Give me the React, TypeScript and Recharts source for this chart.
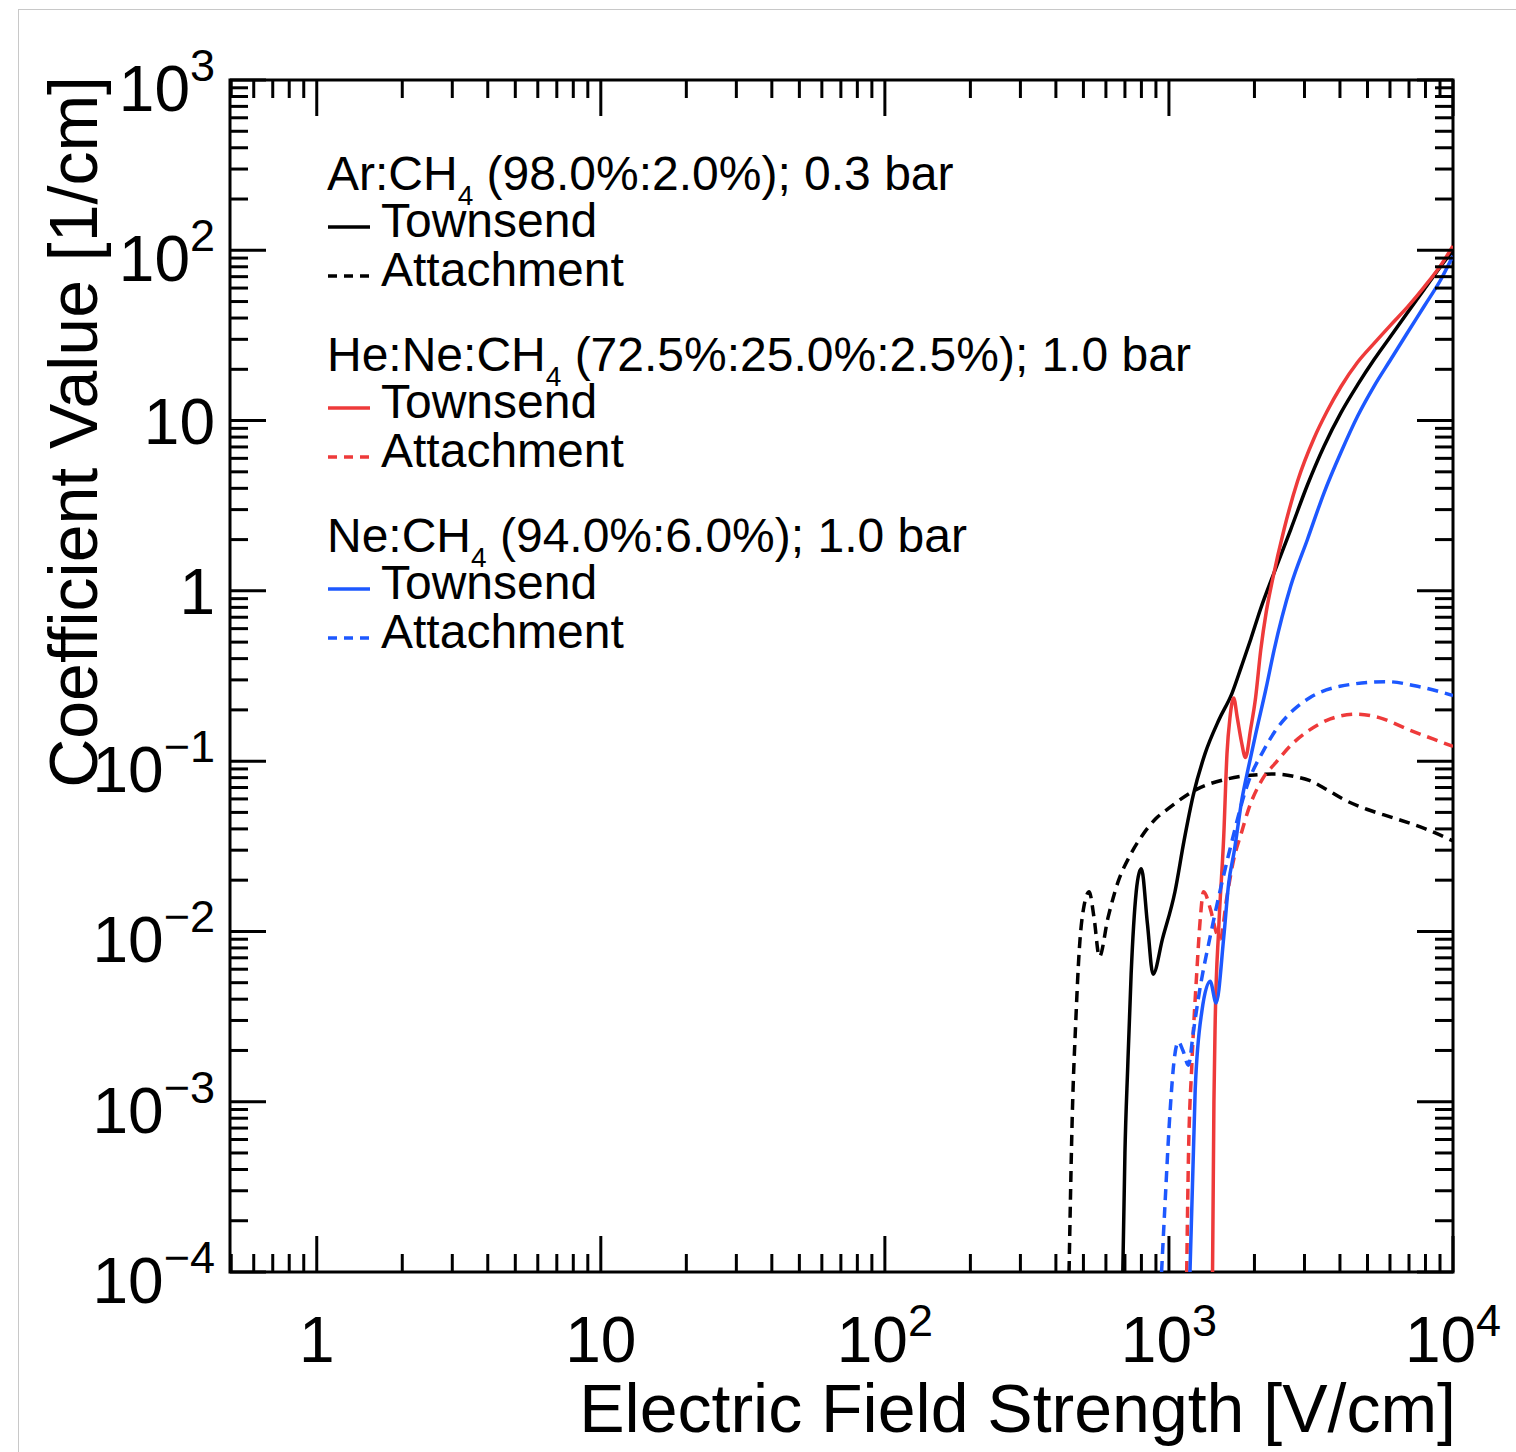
import { LineChart, Line, XAxis, YAxis, Legend, ReferenceArea } from "recharts";

const FONT = "'Liberation Sans', Arial, Helvetica, sans-serif";
const RED = "#ee3a3a";
const BLUE = "#1d58ff";

const CHART_W = 1516;
const CHART_H = 1452;
const PLOT_W = 1223;
const PLOT_H = 1192;

// axis ranges and ticks
const xDomain = [0.495, 10000];
const yDomain = [1e-4, 1000];
const xMajor = [1, 10, 100, 1000, 10000];
const yMajor = [1e-4, 1e-3, 1e-2, 1e-1, 1, 10, 100, 1000];
const minorSteps = [2, 3, 4, 5, 6, 7, 8, 9];
const xTicks = [0.5, 0.6, 0.7, 0.8, 0.9, ...xMajor, ...[1, 10, 100, 1000].flatMap((d) => minorSteps.map((m) => m * d))];
const yTicks = [...yMajor, ...[1e-4, 1e-3, 1e-2, 1e-1, 1, 10, 100].flatMap((d) => minorSteps.map((m) => m * d))];

// [field V/cm, coefficient 1/cm]
const arTownsend = [
  [688, 1e-4], [700, 5e-4], [716, 1.6e-3], [736, 5.6e-3], [767, 0.0171], [785, 0.022], [800, 0.0233],
  [840, 0.0111], [879, 5.6e-3], [950, 9.1e-3], [1050, 0.0171], [1130, 0.034], [1219, 0.0635],
  [1341, 0.111], [1500, 0.175], [1667, 0.25], [1800, 0.36], [1941, 0.52], [2100, 0.78], [2346, 1.28],
  [2685, 2.3], [3075, 4.2], [3519, 7.1], [4030, 11.1], [4613, 16.2], [5283, 22.9], [6043, 31.4],
  [6920, 43.1], [7925, 59], [9075, 81], [10000, 100],
];
const arAttachment = [
  [445, 1e-4], [457, 8.5e-4], [470, 2.98e-3], [483, 7.6e-3], [500, 0.0135], [524, 0.0171], [545, 0.012],
  [569, 7.1e-3], [610, 0.012], [661, 0.0194], [730, 0.028], [800, 0.036], [900, 0.046], [994, 0.0526],
  [1236, 0.0676], [1622, 0.0789], [2000, 0.083], [2378, 0.084], [2800, 0.081], [3120, 0.077],
  [3600, 0.068], [4092, 0.06], [5000, 0.052], [6160, 0.0465], [8000, 0.04], [10000, 0.034],
];
const heTownsend = [
  [1424, 1e-4], [1440, 1e-3], [1455, 2.98e-3], [1497, 0.0104], [1559, 0.036], [1601, 0.111], [1640, 0.18],
  [1690, 0.235], [1740, 0.18], [1800, 0.13], [1859, 0.105], [1940, 0.155], [2018, 0.235], [2105, 0.45],
  [2200, 0.75], [2313, 1.15], [2543, 2.3], [2836, 4.4], [3245, 7.9], [3600, 11.3], [4030, 15.8],
  [4613, 22], [5283, 28.5], [6043, 36.5], [6920, 46.5], [7925, 61], [9075, 82], [10000, 106],
];
const heAttachment = [
  [1155, 1e-4], [1171, 4.6e-4], [1203, 1.6e-3], [1252, 5.6e-3], [1290, 0.012], [1324, 0.0171],
  [1400, 0.0135], [1470, 0.0098], [1515, 0.009], [1600, 0.016], [1690, 0.0264], [1800, 0.038],
  [1910, 0.0526], [2150, 0.08], [2378, 0.098], [2700, 0.125], [3120, 0.152], [3700, 0.177],
  [4570, 0.189], [5500, 0.18], [7060, 0.152], [8500, 0.135], [10000, 0.122],
];
const neTownsend = [
  [1186, 1e-4], [1237, 1.17e-3], [1306, 3.4e-3], [1397, 5.1e-3], [1466, 3.8e-3], [1559, 9.2e-3],
  [1622, 0.019], [1700, 0.03], [1808, 0.06], [1900, 0.09], [2018, 0.143], [2200, 0.27], [2346, 0.45],
  [2685, 1.07], [3075, 2.01], [3519, 3.78], [4030, 6.49], [4613, 10.6], [5283, 16.0], [6043, 22.9],
  [6920, 32.9], [7925, 47.1], [9075, 67.6], [10000, 92.7],
];
const neAttachment = [
  [942, 1e-4], [968, 2.45e-4], [1008, 8.5e-4], [1045, 1.8e-3], [1079, 2.25e-3], [1120, 2e-3],
  [1171, 1.64e-3], [1220, 2.6e-3], [1270, 4.07e-3], [1416, 0.0104], [1622, 0.0282], [1910, 0.0765],
  [2150, 0.115], [2378, 0.152], [2700, 0.195], [3120, 0.235], [4000, 0.275], [5840, 0.293],
  [7500, 0.275], [10000, 0.243],
];

const legendGroups = [
  { gas: "Ar:CH", rest: " (98.0%:2.0%); 0.3 bar", color: "#000" },
  { gas: "He:Ne:CH", rest: " (72.5%:25.0%:2.5%); 1.0 bar", color: RED },
  { gas: "Ne:CH", rest: " (94.0%:6.0%); 1.0 bar", color: BLUE },
];

const toPoints = (rows: number[][]) => rows.map(([x, y]) => ({ x, y }));

const isMajor = (v: number) => Math.abs(Math.log10(v) - Math.round(Math.log10(v))) < 1e-6;

const powerLabel = (v: number, supDy: number) => {
  const e = Math.round(Math.log10(v));
  if (e === 0) return "1";
  if (e === 1) return "10";
  return (
    <>
      10
      <tspan dy={supDy} fontSize={45}>
        {e < 0 ? `\u2212${-e}` : e}
      </tspan>
    </>
  );
};

const XTick = (props: any) => {
  const { x, y, payload } = props;
  const major = isMajor(payload.value);
  const len = major ? 36 : 18;
  const top = y - PLOT_H;
  return (
    <g>
      <line x1={x} x2={x} y1={y} y2={y - len} stroke="#000" strokeWidth={3} />
      <line x1={x} x2={x} y1={top} y2={top + len} stroke="#000" strokeWidth={3} />
      {major && (
        <text x={x} y={y + 90} textAnchor="middle" fontSize={64} fontFamily={FONT} fill="#000">
          {powerLabel(payload.value, -26)}
        </text>
      )}
    </g>
  );
};

const YTick = (props: any) => {
  const { x, y, payload } = props;
  const major = isMajor(payload.value);
  const len = major ? 36 : 18;
  const right = x + PLOT_W;
  const e = Math.round(Math.log10(payload.value));
  const plain = e === 0 || e === 1;
  return (
    <g>
      <line x1={x} x2={x + len} y1={y} y2={y} stroke="#000" strokeWidth={3} />
      <line x1={right} x2={right - len} y1={y} y2={y} stroke="#000" strokeWidth={3} />
      {major && (
        <text x={x - 15} y={y + (plain ? 23 : 31)} textAnchor="end" fontSize={64} fontFamily={FONT} fill="#000">
          {powerLabel(payload.value, -30)}
        </text>
      )}
    </g>
  );
};

const LegendBox = () => (
  <svg width={900} height={540} style={{ overflow: "visible" }}>
    {legendGroups.map((g, i) => {
      const base = 50 + i * 181;
      return (
        <g key={g.gas} fontFamily={FONT} fontSize={48} fill="#000">
          <text x={7} y={base}>
            {g.gas}
            <tspan fontSize={28} dy={15}>4</tspan>
            <tspan dy={-15}>{g.rest}</tspan>
          </text>
          <line x1={8} x2={50} y1={base + 37} y2={base + 37} stroke={g.color} strokeWidth={3.5} />
          <text x={61} y={base + 47}>Townsend</text>
          <line x1={8} x2={50} y1={base + 86} y2={base + 86} stroke={g.color} strokeWidth={3.5} strokeDasharray="9 7" />
          <text x={61} y={base + 96}>Attachment</text>
        </g>
      );
    })}
  </svg>
);

const series = [
  { name: "Ar Townsend", data: arTownsend, color: "#000", dash: undefined },
  { name: "Ar Attachment", data: arAttachment, color: "#000", dash: "11 7" },
  { name: "HeNe Townsend", data: heTownsend, color: RED, dash: undefined },
  { name: "HeNe Attachment", data: heAttachment, color: RED, dash: "11 7" },
  { name: "Ne Townsend", data: neTownsend, color: BLUE, dash: undefined },
  { name: "Ne Attachment", data: neAttachment, color: BLUE, dash: "11 7" },
];

export default function App() {
  return (
    <div style={{ position: "absolute", left: 0, top: 0, width: CHART_W, height: CHART_H, overflow: "hidden", background: "#fff" }}>
      <div style={{ position: "absolute", left: 18, top: 9, width: 1520, height: 1460, border: "1px solid #c8c8c8" }} />
      <div style={{ position: "absolute", left: 0, top: 0 }}>
        <LineChart width={CHART_W} height={CHART_H} margin={{ top: 80, right: 63, bottom: 0, left: 0 }}>
          <XAxis
            dataKey="x"
            type="number"
            scale="log"
            domain={xDomain}
            allowDataOverflow
            ticks={xTicks}
            interval={0}
            height={180}
            tickSize={0}
            tickMargin={0}
            axisLine={false}
            tickLine={false}
            tick={(p: any) => <XTick {...p} />}
            label={() => (
              <text x={1456} y={1432} textAnchor="end" fontSize={68} fontFamily={FONT} fill="#000">
                Electric Field Strength [V/cm]
              </text>
            )}
          />
          <YAxis
            dataKey="y"
            type="number"
            scale="log"
            domain={yDomain}
            allowDataOverflow
            ticks={yTicks}
            interval={0}
            width={230}
            tickSize={0}
            tickMargin={0}
            axisLine={false}
            tickLine={false}
            tick={(p: any) => <YTick {...p} />}
            label={() => (
              <text
                x={97}
                y={76}
                transform="rotate(-90, 97, 76)"
                textAnchor="end"
                fontSize={68}
                fontFamily={FONT}
                fill="#000"
              >
                Coefficient Value [1/cm]
              </text>
            )}
          />
          <ReferenceArea
            x1={xDomain[0]}
            x2={xDomain[1]}
            y1={yDomain[0]}
            y2={yDomain[1]}
            fill="none"
            stroke="#000"
            strokeWidth={3}
            ifOverflow="visible"
          />
          {series.map((s) => (
            <Line
              key={s.name}
              name={s.name}
              data={toPoints(s.data)}
              dataKey="y"
              type="monotone"
              stroke={s.color}
              strokeWidth={3.5}
              strokeDasharray={s.dash}
              dot={false}
              activeDot={false}
              isAnimationActive={false}
            />
          ))}
          <Legend
            layout="horizontal"
            verticalAlign="middle"
            align="center"
            wrapperStyle={{ left: 320, top: 140, width: 900, height: 540 }}
            content={() => <LegendBox />}
          />
        </LineChart>
      </div>
    </div>
  );
}
